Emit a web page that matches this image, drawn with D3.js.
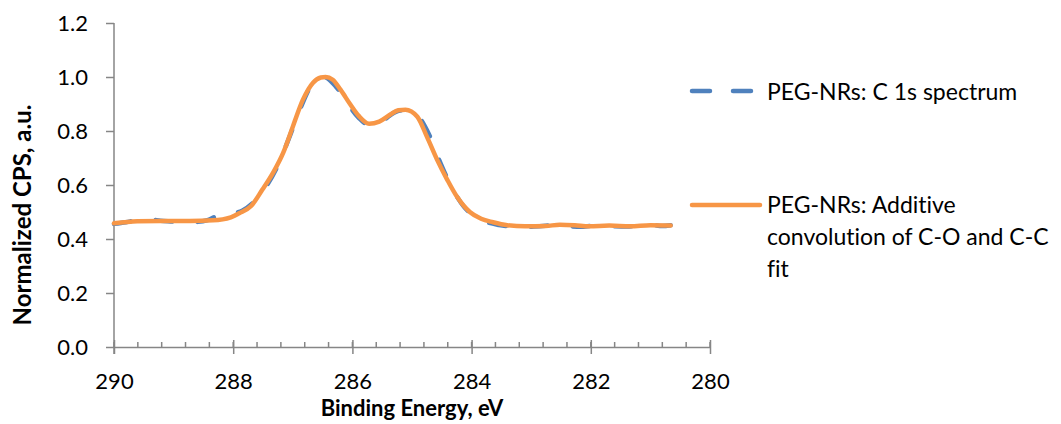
<!DOCTYPE html>
<html>
<head>
<meta charset="utf-8">
<script src="https://cdn.jsdelivr.net/npm/d3@7"></script>
<style>
  body { margin: 0; background: #fff; }
  svg text { font-family: Lato, "Open Sans", sans-serif; fill: #000; font-variant-ligatures: none; }
</style>
</head>
<body>
<div id="chart"></div>
<script>
// measured XPS spectrum (blue dashed)
var specEnergy = [290.00, 289.80, 289.61, 289.41, 289.22, 289.02, 288.83, 288.63, 288.43, 288.24, 288.04, 287.85, 287.65,
  287.46, 287.26, 287.07, 286.87, 286.67, 286.48, 286.28, 286.09, 285.89, 285.70, 285.50, 285.30, 285.11, 284.91, 284.72,
  284.52, 284.33, 284.13, 283.94, 283.74, 283.54, 283.35, 283.15, 282.96, 282.76, 282.57, 282.37, 282.17, 281.98, 281.78,
  281.59, 281.39, 281.20, 281.00, 280.80, 280.66];
var specValue = [0.456, 0.462, 0.470, 0.472, 0.468, 0.465, 0.462, 0.463, 0.470, 0.488, 0.493, 0.505, 0.538, 0.590, 0.668, 0.770,
  0.885, 0.975, 1.000, 0.965, 0.905, 0.848, 0.820, 0.836, 0.868, 0.878, 0.858, 0.790, 0.680, 0.590, 0.520, 0.482, 0.462,
  0.452, 0.446, 0.443, 0.446, 0.449, 0.452, 0.448, 0.445, 0.449, 0.451, 0.447, 0.446, 0.449, 0.452, 0.448, 0.451];

// additive C-O + C-C fit (orange)
var fitEnergy = [290.00, 289.61, 289.22, 288.73, 288.34, 288.04, 287.90, 287.70, 287.51, 287.33, 287.16, 287.00, 286.83,
  286.66, 286.53, 286.45, 286.33, 286.20, 286.04, 285.89, 285.72, 285.55, 285.37, 285.23, 285.11, 284.91, 284.75, 284.58,
  284.41, 284.25, 284.03, 283.84, 283.64, 283.40, 283.10, 282.76, 282.52, 282.27, 282.03, 281.69, 281.34, 281.00, 280.66];
var fitValue = [0.458, 0.466, 0.467, 0.467, 0.469, 0.480, 0.495, 0.522, 0.583, 0.646, 0.720, 0.816, 0.916, 0.979,
  0.998, 1.000, 0.990, 0.953, 0.900, 0.855, 0.827, 0.835, 0.860, 0.877, 0.879, 0.853, 0.779, 0.694, 0.620,
  0.558, 0.500, 0.475, 0.462, 0.451, 0.447, 0.448, 0.453, 0.451, 0.447, 0.450, 0.447, 0.451, 0.450];

var xTicks = [290, 288, 286, 284, 282, 280];
var yTicks = [0, 0.2, 0.4, 0.6, 0.8, 1.0, 1.2];
var legendLabels = ["PEG-NRs: C 1s spectrum", ["PEG-NRs: Additive", "convolution of C-O and C-C", "fit"]];

var width = 1061, height = 424;
var plotLeft = 114, plotRight = 710, plotTop = 23, plotBottom = 347;
var blue = "#4f81bd", orange = "#f79646", axisColor = "#868686";

var svg = d3.select("#chart").append("svg")
  .attr("width", width)
  .attr("height", height);

var x = d3.scaleLinear().domain([290, 280]).range([plotLeft, plotRight]);
var y = d3.scaleLinear().domain([0, 1.2]).range([plotBottom, plotTop]);

// minor ticks on x axis (inside)
var minor = d3.range(0, 26).map(i => 290 - i * 0.4);
svg.append("g").selectAll("line").data(minor).enter().append("line")
  .attr("x1", d => x(d)).attr("x2", d => x(d))
  .attr("y1", plotBottom - 5).attr("y2", plotBottom)
  .attr("stroke", axisColor).attr("stroke-width", 1.5);

// x axis
var xAxis = svg.append("g")
  .attr("transform", "translate(0," + plotBottom + ")")
  .call(d3.axisBottom(x).tickValues(xTicks).tickSize(7).tickSizeOuter(0).tickFormat(d3.format("d")));
xAxis.select(".domain").attr("stroke", axisColor).attr("stroke-width", 1.5);
xAxis.selectAll(".tick line").attr("stroke", axisColor).attr("stroke-width", 1.5).attr("y1", -7);
xAxis.selectAll(".tick text").attr("font-size", "22px").attr("dy", null).attr("y", 42);

// y axis
var yAxis = svg.append("g")
  .attr("transform", "translate(" + plotLeft + ",0)")
  .call(d3.axisLeft(y).tickValues(yTicks).tickSize(8).tickSizeOuter(0).tickFormat(d3.format(".1f")));
yAxis.select(".domain").attr("stroke", axisColor).attr("stroke-width", 1.5)
  .attr("d", "M0," + plotTop + "V" + (plotBottom + 7));
yAxis.selectAll(".tick line").attr("stroke", axisColor).attr("stroke-width", 1.5);
yAxis.selectAll(".tick text").attr("font-size", "22px").attr("x", -26).attr("dy", "0.35em");

// axis titles
svg.append("text")
  .attr("x", (plotLeft + plotRight) / 2)
  .attr("y", 416)
  .attr("text-anchor", "middle")
  .style("font-weight", "bold")
  .style("font-size", "22px")
  .text("Binding Energy, eV");

svg.append("text")
  .attr("transform", "translate(31,215) rotate(-90)")
  .attr("text-anchor", "middle")
  .style("font-weight", "bold")
  .style("font-size", "24px")
  .text("Normalized CPS, a.u.");

// lines
var line = d3.line()
  .x(d => x(d[0]))
  .y(d => y(d[1]))
  .curve(d3.curveMonotoneX);

svg.append("path")
  .datum(specEnergy.map((e, i) => [e, specValue[i]]))
  .attr("d", line)
  .attr("fill", "none")
  .attr("stroke", blue)
  .attr("stroke-width", 4.5)
  .attr("stroke-linecap", "round")
  .attr("stroke-dasharray", "17 25");

svg.append("path")
  .datum(fitEnergy.map((e, i) => [e, fitValue[i]]))
  .attr("d", line)
  .attr("fill", "none")
  .attr("stroke", orange)
  .attr("stroke-width", 4.5)
  .attr("stroke-linecap", "round");

// legend
var lg = svg.append("g");
lg.append("line")
  .attr("x1", 692).attr("x2", 752).attr("y1", 91).attr("y2", 91)
  .attr("stroke", blue).attr("stroke-width", 4.5)
  .attr("stroke-linecap", "round").attr("stroke-dasharray", "18 23");
lg.append("text")
  .attr("x", 767).attr("y", 100)
  .style("font-size", "23px")
  .text(legendLabels[0]);

lg.append("line")
  .attr("x1", 692).attr("x2", 760).attr("y1", 205).attr("y2", 205)
  .attr("stroke", orange).attr("stroke-width", 4.5)
  .attr("stroke-linecap", "round");
legendLabels[1].forEach((t, i) => {
  lg.append("text")
    .attr("x", 767).attr("y", 213 + i * 32)
    .style("font-size", "23px")
    .text(t);
});
</script>
</body>
</html>
